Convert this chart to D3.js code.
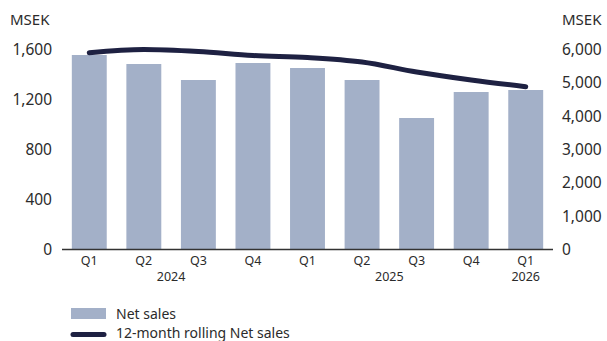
<!DOCTYPE html>
<html><head><meta charset="utf-8">
<script src="https://cdn.jsdelivr.net/npm/d3@7"></script>
<style>
html,body{margin:0;padding:0;background:#fff;}
svg text{font-family:"Noto Sans",Lato,sans-serif;fill:#2b2b2b;}
</style></head>
<body><svg id="c" width="607" height="341"></svg>
<script>
const quarters = ["Q1","Q2","Q3","Q4","Q1","Q2","Q3","Q4","Q1"];
const years = [{label:"2024", from:0, to:3},{label:"2025", from:4, to:7},{label:"2026", from:8, to:8}];
const netSales = [1556,1484,1356,1492,1452,1356,1052,1260,1276];
const rolling = [5905,6000,5940,5820,5760,5625,5325,5085,4885];
const leftTicks = [0,400,800,1200,1600];
const rightTicks = [0,1000,2000,3000,4000,5000,6000];

const svg = d3.select("#c");
const x = d3.scaleBand().domain(d3.range(quarters.length)).range([62,553]).paddingInner(0.36).paddingOuter(0.18);
const yL = d3.scaleLinear().domain([0,1600]).range([249.5,49.5]);
const yR = d3.scaleLinear().domain([0,6000]).range([249.5,49.5]);

svg.append("g").selectAll("rect").data(netSales).join("rect")
  .attr("x",(d,i)=>x(i)).attr("width",x.bandwidth())
  .attr("y",d=>yL(d)).attr("height",d=>yL(0)-yL(d))
  .attr("fill","#a3b0c8");

svg.append("line").attr("x1",62).attr("x2",553).attr("y1",yL(0)).attr("y2",yL(0))
  .attr("stroke","#333").attr("stroke-width",1.5);

const line = d3.line().x((d,i)=>x(i)+x.bandwidth()/2).y(d=>yR(d)).curve(d3.curveMonotoneX);
svg.append("path").datum(rolling).attr("d",line).attr("fill","none")
  .attr("stroke","#1e2142").attr("stroke-width",5).attr("stroke-linecap","round");

// axis labels
svg.append("g").selectAll("text").data(leftTicks).join("text")
  .attr("x",52).attr("y",d=>yL(d)).attr("dy","0.35em").attr("text-anchor","end")
  .attr("font-size",15.5).text(d=>d3.format(",")(d));
svg.append("g").selectAll("text").data(rightTicks).join("text")
  .attr("x",562).attr("y",d=>yR(d)).attr("dy","0.35em").attr("text-anchor","start")
  .attr("font-size",15.5).text(d=>d3.format(",")(d));
svg.append("text").attr("x",10).attr("y",20).attr("dy","0.35em").attr("font-size",15).text("MSEK");
svg.append("text").attr("x",562).attr("y",20).attr("dy","0.35em").attr("font-size",15).text("MSEK");

// x labels
svg.append("g").selectAll("text").data(quarters).join("text")
  .attr("x",(d,i)=>x(i)+x.bandwidth()/2).attr("y",260.5).attr("dy","0.35em")
  .attr("text-anchor","middle").attr("font-size",12.5).text(d=>d);
svg.append("g").selectAll("text").data(years).join("text")
  .attr("x",d=>(x(d.from)+x(d.to)+x.bandwidth())/2).attr("y",277).attr("dy","0.35em")
  .attr("text-anchor","middle").attr("font-size",12.5).text(d=>d.label);

// legend
const lg = svg.append("g");
lg.append("rect").attr("x",71).attr("y",308).attr("width",35).attr("height",11).attr("fill","#a3b0c8");
lg.append("text").attr("x",116).attr("y",314).attr("dy","0.35em").attr("font-size",14).text("Net sales");
lg.append("line").attr("x1",73).attr("x2",104).attr("y1",334.5).attr("y2",334.5)
  .attr("stroke","#1e2142").attr("stroke-width",5).attr("stroke-linecap","round");
lg.append("text").attr("x",116).attr("y",333.5).attr("dy","0.35em").attr("font-size",14).text("12-month rolling Net sales");
</script></body></html>
